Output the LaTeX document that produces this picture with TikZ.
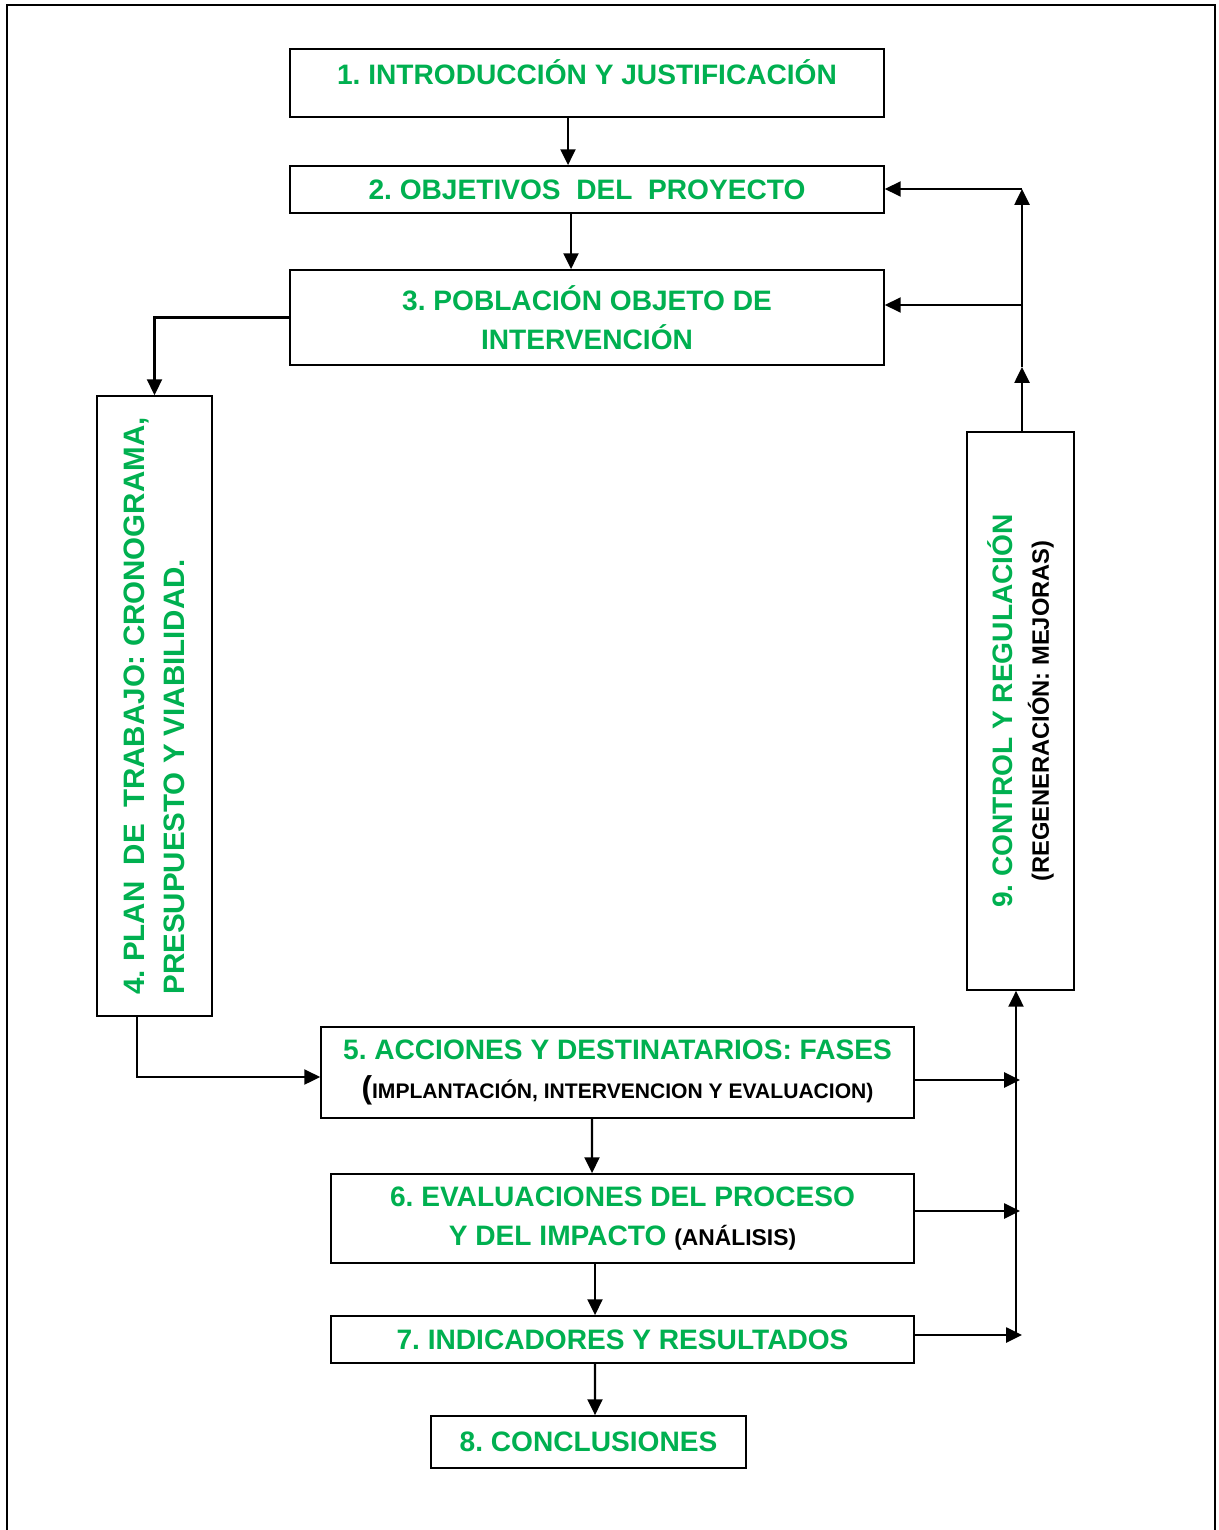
\documentclass[tikz,border=0pt]{standalone}
\usepackage{fontspec}
\setmainfont{Liberation Sans}
\usetikzlibrary{arrows.meta}
\definecolor{verde}{RGB}{0,176,80}
\tikzset{
	boxstyle/.style={rectangle,draw=black,line width=1pt,fill=white,inner sep=2pt,text=verde,align=center,font=\fontsize{16}{22}\selectfont\bfseries\frenchspacing},
	vboxstyle/.style={boxstyle,rotate=90},
	arrowstyle/.style={line width=1.3pt,-{Triangle[length=9pt,width=8.5pt]}},
	framestyle/.style={line width=1pt}
}
\begin{document}
\begin{tikzpicture}[x=0.02cm,y=-0.02cm]
		\useasboundingbox (0,0) rectangle (1219,1530);
		\draw[framestyle] (7,1530) -- (7,5) -- (1215,5) -- (1215,1530);
		\node[boxstyle,minimum width=11.88cm,minimum height=1.36cm,text depth=12pt] (n1) at (587,83) {1. INTRODUCCIÓN Y JUSTIFICACIÓN};
		\node[boxstyle,minimum width=11.88cm,minimum height=0.94cm] (n2) at (587,189.5) {2. OBJETIVOS~ DEL~ PROYECTO};
		\node[boxstyle,minimum width=11.88cm,minimum height=1.9cm] (n3) at (587,317.5) {3. POBLACIÓN OBJETO DE\\INTERVENCIÓN};
		\node[vboxstyle,align=left,minimum width=12.4cm,minimum height=2.3cm,font=\fontsize{16.8}{22.5}\selectfont\bfseries\frenchspacing] (n4) at (154.5,706) {4. PLAN~ DE~ TRABAJO: CRONOGRAMA,\\PRESUPUESTO Y VIABILIDAD.};
		\node[boxstyle,minimum width=11.86cm,minimum height=1.82cm] (n5) at (617.5,1072.5) {5. ACCIONES Y DESTINATARIOS: FASES\\{\color{black}{\fontsize{18}{22}\selectfont(}\fontsize{12}{22}\selectfont IMPLANTACIÓN, INTERVENCION Y EVALUACION)}};
		\node[boxstyle,minimum width=11.66cm,minimum height=1.78cm] (n6) at (622.5,1218.5) {6. EVALUACIONES DEL PROCESO\\Y DEL IMPACTO {\color{black}\fontsize{13}{22}\selectfont(ANÁLISIS)}};
		\node[boxstyle,minimum width=11.66cm,minimum height=0.94cm] (n7) at (622.5,1339.5) {7. INDICADORES Y RESULTADOS};
		\node[boxstyle,minimum width=6.3cm,minimum height=1.04cm] (n8) at (588.5,1442) {8. CONCLUSIONES};
		\node[vboxstyle,minimum width=11.16cm,minimum height=2.14cm,font=\fontsize{16}{21}\selectfont\bfseries\frenchspacing] (n9) at (1020.5,711) {9. CONTROL Y REGULACIÓN\\{\color{black}\fontsize{13.5}{21}\selectfont(REGENERACIÓN: MEJORAS)}};
		\coordinate (b5) at (1020,1080);
		\coordinate (b6) at (1020,1211);
		\coordinate (b7) at (1022,1335);
		\coordinate (bu) at (1016,1335);
		\coordinate (t9) at (1022,367);
		\coordinate (t3) at (1022,305);
		\coordinate (t2) at (1022,189);
		\draw[arrowstyle] ([xshift=-0.38cm]n1.south) -- ([xshift=-0.38cm]n2.north);
		\draw[arrowstyle] ([xshift=-0.32cm]n2.south) -- ([xshift=-0.32cm]n3.north);
		\draw[arrowstyle] (n3.west) -| (n4.east);
		\draw[arrowstyle] ([xshift=-0.35cm]n4.west) |- ([yshift=-0.09cm]n5.west);
		\draw[arrowstyle] ([xshift=-0.51cm]n5.south) -- ([xshift=-0.61cm]n6.north);
		\draw[arrowstyle] ([xshift=-0.55cm]n6.south) -- ([xshift=-0.55cm]n7.north);
		\draw[arrowstyle] ([xshift=-0.55cm]n7.south) -- ([xshift=0.13cm]n8.north);
		\draw[arrowstyle] (b5 -| n5.east) -- (b5);
		\draw[arrowstyle] (b6 -| n6.east) -- (b6);
		\draw[arrowstyle] (b7 -| n7.east) -- (b7);
		\draw[arrowstyle] (bu) -- (bu |- n9.west);
		\draw[arrowstyle] (t9 |- n9.east) -- (t9);
		\draw[arrowstyle] (t9) -- (t2);
		\draw[arrowstyle] (t3) -- (t3 -| n3.east);
		\draw[arrowstyle] (t2) -- (t2 -| n2.east);
\end{tikzpicture}
\end{document}
